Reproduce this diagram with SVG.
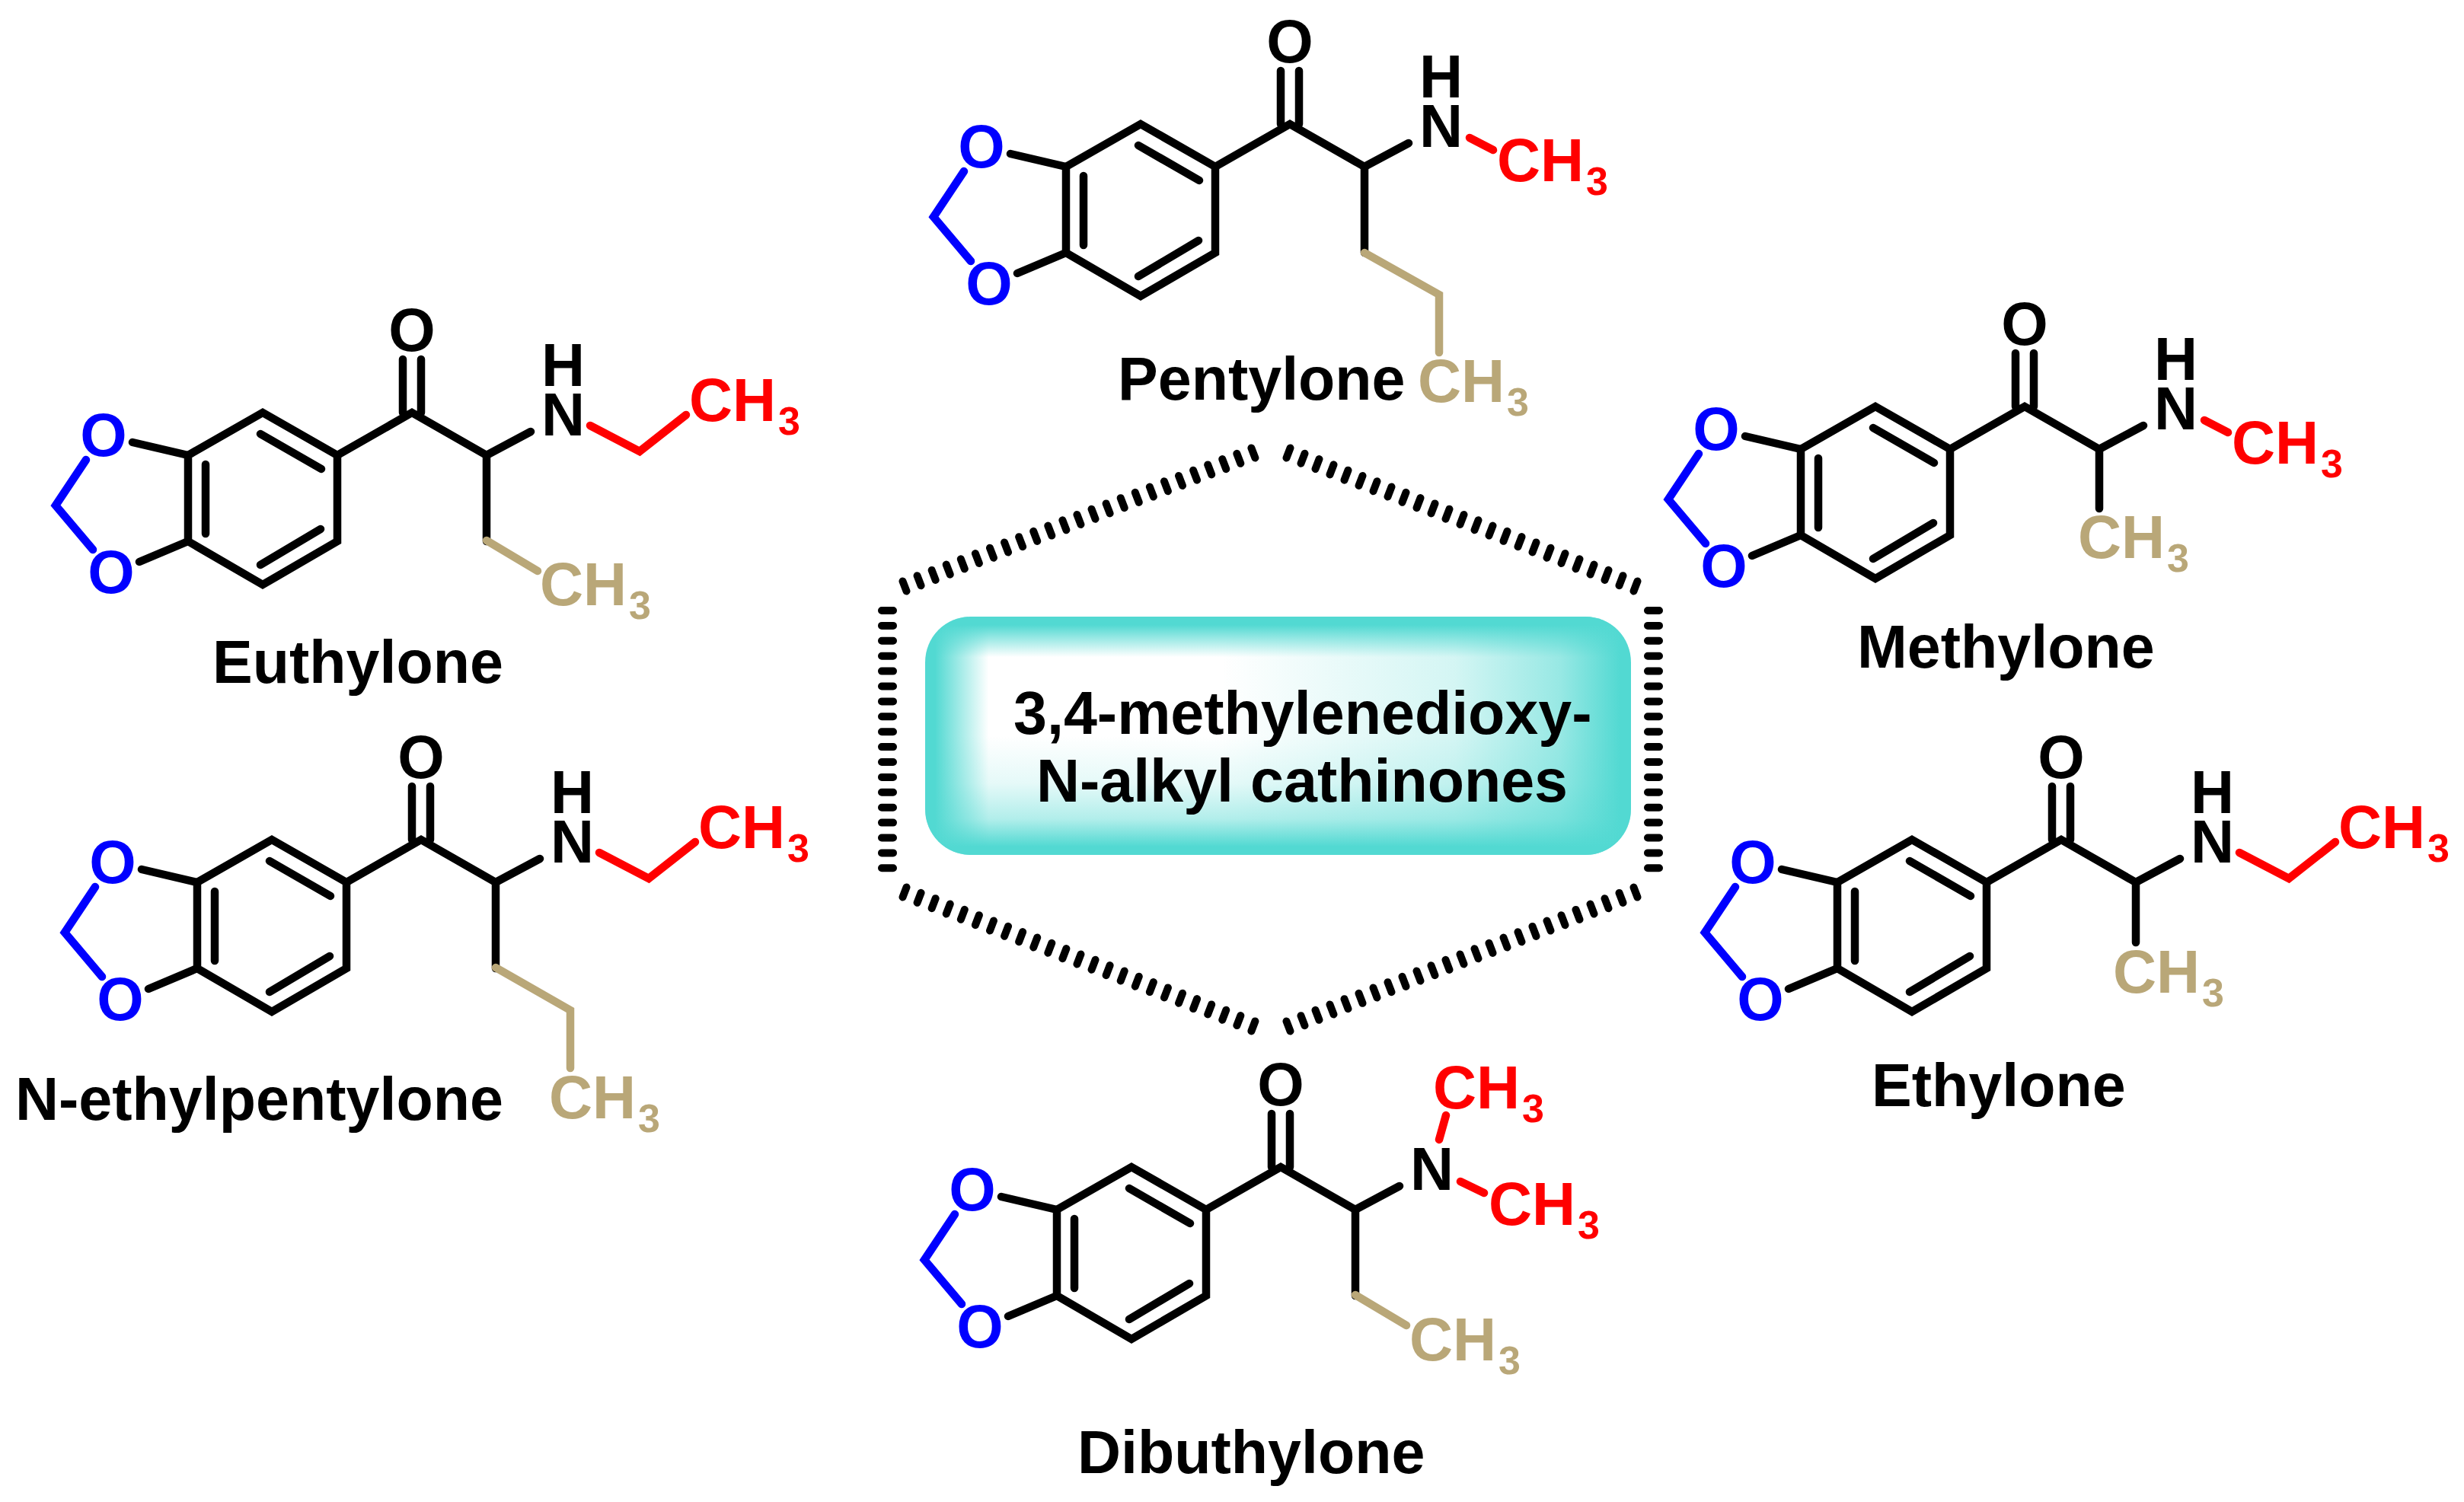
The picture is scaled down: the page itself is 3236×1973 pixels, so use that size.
<svg xmlns="http://www.w3.org/2000/svg" xmlns:xlink="http://www.w3.org/1999/xlink" width="3236" height="1973" viewBox="0 0 3236 1973">
<style>
path{fill:none;stroke-width:10.5;stroke-linecap:round;stroke-linejoin:miter}
.k{stroke:#000}.r{stroke:#f00}.n{stroke:#b9a778}.u{stroke:#00f}
text{font-family:"Liberation Sans",Arial,sans-serif;font-weight:700;font-size:79px;fill:#000}
.tr{fill:#f00}.tn{fill:#b9a778}.tu{fill:#00f}
.m{text-anchor:middle}
.s{font-size:52px}
.tick{stroke-width:10}
</style>
<defs>
<linearGradient id="gx" x1="0" x2="1" y1="0" y2="0">
<stop offset="0" stop-color="#52d9d2"/><stop offset=".014" stop-color="#52d9d2"/><stop offset=".09" stop-color="#52d9d2" stop-opacity="0"/><stop offset=".42" stop-color="#52d9d2" stop-opacity="0"/><stop offset=".75" stop-color="#52d9d2" stop-opacity=".25"/><stop offset=".9" stop-color="#52d9d2" stop-opacity=".6"/><stop offset=".985" stop-color="#52d9d2"/><stop offset="1" stop-color="#52d9d2"/>
</linearGradient>
<linearGradient id="gy" x1="0" x2="0" y1="0" y2="1">
<stop offset="0" stop-color="#52d9d2"/><stop offset=".035" stop-color="#52d9d2"/><stop offset=".17" stop-color="#52d9d2" stop-opacity="0"/><stop offset=".5" stop-color="#52d9d2" stop-opacity="0"/><stop offset=".7" stop-color="#52d9d2" stop-opacity=".15"/><stop offset=".85" stop-color="#52d9d2" stop-opacity=".45"/><stop offset=".965" stop-color="#52d9d2"/><stop offset="1" stop-color="#52d9d2"/>
</linearGradient>
<g id="core">
<path class="k" d="M1498 163L1596 219V332L1498 389L1400 332V219Z"/>
<path class="k" d="M1596 219L1694 163L1792 219L1850 188M1682 93V163M1706 93V163M1423 231V322M1495 191L1575 237M1574 316L1495 363M1327 202L1400 219M1336 359L1400 332"/>
<path class="u" d="M1266 225L1226 285L1275 343"/>
</g>
</defs>
<rect width="3236" height="1973" fill="#fff"/>

<g id="hexagon">
<path class="k tick" d="M1158 802h15m-15 19.9h15m-15 19.9h15m-15 19.9h15m-15 19.9h15m-15 19.9h15m-15 19.9h15m-15 19.9h15m-15 19.9h15m-15 19.9h15m-15 19.9h15m-15 19.9h15m-15 19.9h15m-15 19.9h15m-15 19.9h15m-15 19.9h15m-15 19.9h15m-15 19.9h15"/>
<path class="k tick" d="M2164 802h15m-15 19.9h15m-15 19.9h15m-15 19.9h15m-15 19.9h15m-15 19.9h15m-15 19.9h15m-15 19.9h15m-15 19.9h15m-15 19.9h15m-15 19.9h15m-15 19.9h15m-15 19.9h15m-15 19.9h15m-15 19.9h15m-15 19.9h15m-15 19.9h15m-15 19.9h15"/>
<path class="k tick" d="M1185.5 763.5l5 13m14.08-20.29l5 13m14.08-20.29l5 13m14.08-20.29l5 13m14.08-20.29l5 13m14.08-20.29l5 13m14.08-20.29l5 13m14.08-20.29l5 13m14.08-20.29l5 13m14.08-20.29l5 13m14.08-20.29l5 13m14.08-20.29l5 13m14.08-20.29l5 13m14.08-20.29l5 13m14.08-20.29l5 13m14.08-20.29l5 13m14.08-20.29l5 13m14.08-20.29l5 13m14.08-20.29l5 13m14.08-20.29l5 13m14.08-20.29l5 13m14.08-20.29l5 13m14.08-20.29l5 13m14.08-20.29l5 13m14.08-20.29l5 13"/>
<path class="k tick" d="M1694.5 588.5l-5 13m24-5.71l-5 13m24-5.71l-5 13m24-5.71l-5 13m24-5.71l-5 13m24-5.71l-5 13m24-5.71l-5 13m24-5.71l-5 13m24-5.71l-5 13m24-5.71l-5 13m24-5.71l-5 13m24-5.71l-5 13m24-5.71l-5 13m24-5.71l-5 13m24-5.71l-5 13m24-5.71l-5 13m24-5.71l-5 13m24-5.71l-5 13m24-5.71l-5 13m24-5.71l-5 13m24-5.71l-5 13m24-5.71l-5 13m24-5.71l-5 13m24-5.71l-5 13m24-5.71l-5 13"/>
<path class="k tick" d="M1190.5 1165.5l-5 13m24.08-5.67l-5 13m24.08-5.67l-5 13m24.08-5.67l-5 13m24.08-5.67l-5 13m24.08-5.67l-5 13m24.08-5.67l-5 13m24.08-5.67l-5 13m24.08-5.67l-5 13m24.08-5.67l-5 13m24.08-5.67l-5 13m24.08-5.67l-5 13m24.08-5.67l-5 13m24.08-5.67l-5 13m24.08-5.67l-5 13m24.08-5.67l-5 13m24.08-5.67l-5 13m24.08-5.67l-5 13m24.08-5.67l-5 13m24.08-5.67l-5 13m24.08-5.67l-5 13m24.08-5.67l-5 13m24.08-5.67l-5 13m24.08-5.67l-5 13m24.08-5.67l-5 13"/>
<path class="k tick" d="M1689.5 1341.5l5 13m14-20.33l5 13m14-20.33l5 13m14-20.33l5 13m14-20.33l5 13m14-20.33l5 13m14-20.33l5 13m14-20.33l5 13m14-20.33l5 13m14-20.33l5 13m14-20.33l5 13m14-20.33l5 13m14-20.33l5 13m14-20.33l5 13m14-20.33l5 13m14-20.33l5 13m14-20.33l5 13m14-20.33l5 13m14-20.33l5 13m14-20.33l5 13m14-20.33l5 13m14-20.33l5 13m14-20.33l5 13m14-20.33l5 13m14-20.33l5 13"/>
</g>

<g id="center-box">
<rect x="1215" y="810" width="927" height="313" rx="60" fill="#fff"/>
<rect x="1215" y="810" width="927" height="313" rx="60" fill="url(#gx)"/>
<rect x="1215" y="810" width="927" height="313" rx="60" fill="url(#gy)"/>
<text x="1331" y="964">3,4-methylenedioxy-</text>
<text x="1361" y="1053">N-alkyl cathinones</text>
</g>

<g id="pentylone">
<use href="#core"/>
<path class="k" d="M1792 219V332"/>
<path class="n" d="M1792 332L1890 387V463"/>
<path class="r" d="M1930 181L1961 197"/>
<text class="m" x="1694" y="82">O</text>
<text x="1864" y="128">H</text><text x="1864" y="193">N</text>
<text class="tu m" x="1289" y="220">O</text><text class="tu m" x="1299" y="400">O</text>
<text class="tr" x="1966" y="238">CH<tspan class="s" dx="3" dy="18">3</tspan></text>
<text class="tn" x="1862" y="528">CH<tspan class="s" dx="3" dy="18">3</tspan></text>
<text x="1468" y="525">Pentylone</text>
</g>

<g id="euthylone">
<g transform="translate(-1153 379)">
<use href="#core"/>
<path class="k" d="M1792 219V332"/>
<path class="n" d="M1792 331L1859 371"/>
<path class="r" d="M1928 180L1993 214L2054 166"/>
<text class="m" x="1694" y="82">O</text>
<text x="1864" y="128">H</text><text x="1864" y="193">N</text>
<text class="tu m" x="1289" y="220">O</text><text class="tu m" x="1299" y="400">O</text>
<text class="tr" x="2058" y="174">CH<tspan class="s" dx="3" dy="18">3</tspan></text>
<text class="tn" x="1862" y="416">CH<tspan class="s" dx="3" dy="18">3</tspan></text>
</g>
<text x="279" y="897">Euthylone</text>
</g>

<g id="n-ethylpentylone">
<g transform="translate(-1141 940)">
<use href="#core"/>
<path class="k" d="M1792 219V332"/>
<path class="n" d="M1792 331L1890 387V463"/>
<path class="r" d="M1928 180L1993 214L2054 166"/>
<text class="m" x="1694" y="82">O</text>
<text x="1864" y="128">H</text><text x="1864" y="193">N</text>
<text class="tu m" x="1289" y="220">O</text><text class="tu m" x="1299" y="400">O</text>
<text class="tr" x="2058" y="174">CH<tspan class="s" dx="3" dy="18">3</tspan></text>
<text class="tn" x="1862" y="529">CH<tspan class="s" dx="3" dy="18">3</tspan></text>
</g>
<text x="20" y="1471">N-ethylpentylone</text>
</g>

<g id="methylone">
<g transform="translate(965 371)">
<use href="#core"/>
<path class="k" d="M1792 219V297"/>
<path class="r" d="M1930 181L1961 197"/>
<text class="m" x="1694" y="82">O</text>
<text x="1864" y="128">H</text><text x="1864" y="193">N</text>
<text class="tu m" x="1289" y="220">O</text><text class="tu m" x="1299" y="400">O</text>
<text class="tr" x="1966" y="238">CH<tspan class="s" dx="3" dy="18">3</tspan></text>
<text class="tn" x="1764" y="362">CH<tspan class="s" dx="3" dy="18">3</tspan></text>
</g>
<text x="2439" y="877">Methylone</text>
</g>

<g id="ethylone">
<g transform="translate(1013 940)">
<use href="#core"/>
<path class="k" d="M1792 219V298"/>
<path class="r" d="M1928 180L1993 214L2054 166"/>
<text class="m" x="1694" y="82">O</text>
<text x="1864" y="128">H</text><text x="1864" y="193">N</text>
<text class="tu m" x="1289" y="220">O</text><text class="tu m" x="1299" y="400">O</text>
<text class="tr" x="2058" y="174">CH<tspan class="s" dx="3" dy="18">3</tspan></text>
<text class="tn" x="1762" y="364">CH<tspan class="s" dx="3" dy="18">3</tspan></text>
</g>
<text x="2458" y="1453">Ethylone</text>
</g>

<g id="dibuthylone">
<g transform="translate(-12 1370)">
<use href="#core"/>
<path class="k" d="M1792 219V332"/>
<path class="n" d="M1792 331L1859 371"/>
<path class="r" d="M1902 127L1911 95M1930 182L1961 197"/>
<text class="m" x="1694" y="82">O</text>
<text x="1864" y="193">N</text>
<text class="tu m" x="1289" y="220">O</text><text class="tu m" x="1299" y="400">O</text>
<text class="tr" x="1894" y="86">CH<tspan class="s" dx="3" dy="18">3</tspan></text>
<text class="tr" x="1967" y="239">CH<tspan class="s" dx="3" dy="18">3</tspan></text>
<text class="tn" x="1863" y="417">CH<tspan class="s" dx="3" dy="18">3</tspan></text>
</g>
<text x="1415" y="1935">Dibuthylone</text>
</g>
</svg>
